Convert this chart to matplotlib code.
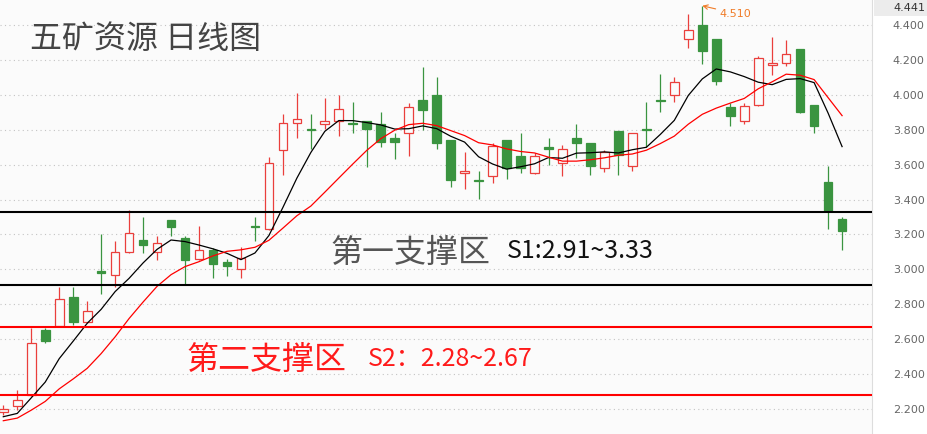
import numpy as np
import matplotlib
matplotlib.use('Agg')
import matplotlib.pyplot as plt
from matplotlib.patches import Rectangle

plt.rcParams['font.family'] = ['Noto Sans CJK SC', 'DejaVu Sans']

# daily candles
open_ = [2.181, 2.219, 2.280, 2.653, 2.677, 2.842, 2.697, 2.991, 2.969, 3.098,
         3.168, 3.098, 3.283, 3.178, 3.058, 3.111, 3.042, 3.000, 3.250, 3.230,
         3.683, 3.837, 3.804, 3.831, 3.848, 3.840, 3.850, 3.833, 3.753, 3.780,
         3.970, 3.999, 3.741, 3.550, 3.512, 3.537, 3.741, 3.649, 3.550, 3.701,
         3.608, 3.753, 3.723, 3.579, 3.792, 3.591, 3.803, 3.970, 3.999, 4.318,
         4.400, 4.320, 3.930, 3.848, 3.940, 4.171, 4.182, 4.262, 3.942, 3.501, 3.289]
high = [2.223, 2.309, 2.666, 2.664, 2.899, 2.899, 2.819, 3.203, 3.162, 3.340,
        3.300, 3.191, 3.283, 3.191, 3.250, 3.125, 3.059, 3.126, 3.302, 3.644,
        3.890, 4.009, 3.890, 3.980, 3.997, 3.959, 3.850, 3.902, 3.781, 3.953,
        4.159, 4.104, 3.741, 3.672, 3.564, 3.722, 3.741, 3.781, 3.668, 3.751,
        3.711, 3.833, 3.723, 3.683, 3.792, 3.782, 3.959, 4.119, 4.102, 4.463,
        4.510, 4.320, 3.951, 3.951, 4.222, 4.333, 4.312, 4.262, 3.942, 3.592, 3.300]
low = [2.166, 2.194, 2.277, 2.580, 2.672, 2.683, 2.692, 2.861, 2.901, 3.095,
       3.095, 3.054, 3.193, 2.914, 3.054, 2.952, 2.962, 2.951, 3.164, 3.225,
       3.542, 3.754, 3.690, 3.802, 3.766, 3.783, 3.585, 3.703, 3.634, 3.651,
       3.798, 3.688, 3.474, 3.462, 3.405, 3.493, 3.515, 3.554, 3.548, 3.596,
       3.532, 3.638, 3.542, 3.555, 3.542, 3.565, 3.703, 3.903, 3.961, 4.267,
       4.175, 4.055, 3.823, 3.835, 3.938, 4.115, 4.163, 3.894, 3.783, 3.233, 3.111]
close = [2.198, 2.250, 2.576, 2.591, 2.828, 2.700, 2.760, 2.977, 3.099, 3.208,
         3.141, 3.149, 3.244, 3.054, 3.109, 3.032, 3.021, 3.063, 3.244, 3.609,
         3.837, 3.860, 3.798, 3.850, 3.917, 3.835, 3.804, 3.731, 3.731, 3.928,
         3.915, 3.726, 3.514, 3.562, 3.508, 3.708, 3.579, 3.582, 3.647, 3.687,
         3.687, 3.726, 3.594, 3.671, 3.656, 3.780, 3.796, 3.963, 4.073, 4.370,
         4.253, 4.081, 3.880, 3.938, 4.209, 4.182, 4.232, 3.903, 3.823, 3.336, 3.222]
# closes just before the visible window (needed to start the averages)
prev_close = [2.10, 2.12, 2.09, 2.11, 2.13, 2.155, 2.13, 2.14, 2.157]

support1 = (2.91, 3.33)
support2 = (2.28, 2.67)
peak_label = '4.510'
yticks = [2.2, 2.4, 2.6, 2.8, 3.0, 3.2, 3.4, 3.6, 3.8, 4.0, 4.2, 4.4]

W, H = 927, 434
RED = '#ea3f3c'
GREEN = '#3a9440'
BG = '#fbfbfb'


def px(x, y):
    # pixel position -> figure fraction
    return x / W, 1 - y / H


fig = plt.figure(figsize=(W / 100, H / 100), dpi=100, facecolor='white')
ax = fig.add_axes([0, 0, 872 / W, 1])
ax.set_facecolor(BG)

n = len(close)
x = np.arange(n)
o = np.array(open_)
c = np.array(close)
up = c >= o
colors = np.where(up, RED, GREEN)

# wicks then bodies
ax.vlines(x, low, high, colors=colors, linewidth=0.9, zorder=2)
body_h = np.maximum(np.abs(c - o), 0.004)
ax.bar(x, body_h, bottom=np.minimum(o, c), width=0.62,
       facecolor=np.where(up, BG, GREEN), edgecolor=colors,
       linewidth=0.9, zorder=3)

# moving averages
allc = np.array(prev_close + close)
k = len(prev_close)
ma5 = np.array([allc[i - 4:i + 1].mean() for i in range(k, k + n)])
ma10 = np.array([allc[i - 9:i + 1].mean() for i in range(k, k + n)])
ax.plot(x, ma5, color='black', linewidth=0.9, zorder=4)
ax.plot(x, ma10, color='#ff0000', linewidth=0.9, zorder=4)

# support zones
for v in support1:
    ax.axhline(v, color='black', linewidth=1.5, zorder=5)
for v in support2:
    ax.axhline(v, color='#ff0000', linewidth=1.5, zorder=5)

# high marker
ipk = int(np.argmax(high))
ax.annotate(peak_label, xy=(ipk, high[ipk]), xytext=(ipk + 1.25, high[ipk] - 0.045),
            color='#f07c28', fontsize=8, ha='left', va='center',
            family=['DejaVu Sans'],
            arrowprops=dict(arrowstyle='->', color='#f07c28', lw=0.8,
                            shrinkA=1, shrinkB=0), zorder=6)

ax.set_xlim(-0.236, 62.14)
ax.set_ylim(2.057, 4.543)
ax.set_yticks(yticks)
ax.set_yticklabels(['%.3f' % t for t in yticks], color='#666666', fontsize=8,
                   family=['DejaVu Sans'])
ax.yaxis.tick_right()
ax.tick_params(axis='y', length=0, pad=15)
ax.set_xticks([])
ax.grid(axis='y', linestyle=(0, (1, 3)), color='#c4c4c4', linewidth=0.8)
for s in ['top', 'bottom', 'left']:
    ax.spines[s].set_visible(False)
ax.spines['right'].set_color('#dddddd')

# top price box
fig.patches.append(Rectangle(px(874, 16), 53 / W, 16 / H, transform=fig.transFigure,
                             facecolor='#ececec', edgecolor='none'))
fig.text(*px(893, 8), '4.441', color='#333333', fontsize=8, va='center', ha='left',
         family=['DejaVu Sans'])

# texts
fig.text(*px(30, 39), '五矿资源 日线图', color='#444444', fontsize=23, va='center', ha='left')
fig.text(*px(330, 253), '第一支撑区', color='#555555', fontsize=23, va='center', ha='left')
fig.text(*px(507, 251), 'S1:%.2f~%.2f' % support1, color='#111111', fontsize=18,
         va='center', ha='left')
fig.text(*px(187, 360), '第二支撑区', color='#ff1a1a', fontsize=23, va='center', ha='left')
fig.text(*px(368, 359), 'S2：%.2f~%.2f' % support2, color='#ff1a1a', fontsize=18,
         va='center', ha='left')

fig.savefig('out.png', dpi=100, facecolor='white')
